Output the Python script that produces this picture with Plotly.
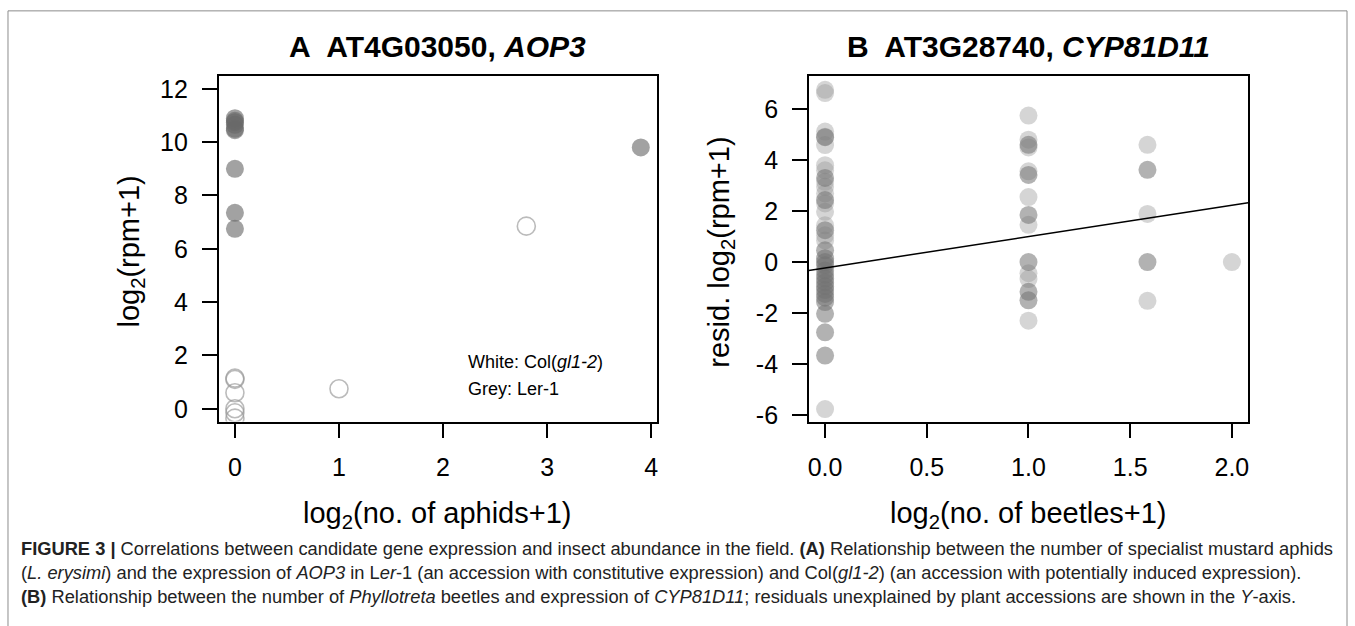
import plotly.graph_objects as go

# ---------------- Data ----------------
# Panel A: AOP3 expression vs aphids
a_ler_x = [0, 0, 0, 0, 0, 0, 0, 0, 0, 3.9]
a_ler_y = [10.9, 10.8, 10.75, 10.65, 10.5, 10.45, 9.0, 7.35, 6.75, 9.8]
a_col_x = [0, 0, 0, 0, 0, 0, 1.0, 2.8]
a_col_y = [1.15, 1.1, 0.6, 0.0, -0.15, -0.35, 0.75, 6.85]

# Panel B: CYP81D11 residuals vs beetles
b_light_x = [0] * 16 + [1.0] * 9 + [1.585] * 3 + [2.0]
b_light_y = [6.76, 6.63, 5.12, 4.92, 4.59, 3.8, 3.6, 3.15, 2.95, 2.69, 2.3, 1.97, 1.44, 1.05, 0.85, -5.77,
             5.75, 4.8, 4.5, 3.56, 2.55, 1.46, -0.44, -0.67, -2.3,
             4.6, 1.89, -1.52,
             0.0]
b_dark_x = [0] * 20 + [1.0] * 6 + [1.585] * 2
b_dark_y = [4.9, 3.3, 2.43, 1.25, 0.46, 0.15, 0.0, -0.13, -0.33, -0.5, -0.65, -0.8, -0.95, -1.1,
            -1.25, -1.4, -1.57, -2.03, -2.76, -3.67,
            4.6, 3.42, 1.85, 0.0, -1.17, -1.5,
            3.62, 0.0]
b_fit_intercept = -0.23
b_fit_slope = 1.23

a_xticks = [0, 1, 2, 3, 4]
a_yticks = [0, 2, 4, 6, 8, 10, 12]
b_xticks = [0.0, 0.5, 1.0, 1.5, 2.0]
b_xticklabels = ["0.0", "0.5", "1.0", "1.5", "2.0"]
b_yticks = [-6, -4, -2, 0, 2, 4, 6]
b_yticklabels = ["-6", "-4", "-2", "0", "2", "4", "6"]

a_xrange = [-0.156, 4.056]
a_yrange = [-0.48, 12.48]
b_xrange = [-0.08, 2.08]
b_yrange = [-6.26, 7.3]

# ---------------- Figure ----------------
W, H = 1355, 626
FONT = "Liberation Sans, Arial, Helvetica, sans-serif"
CAP_FONT = "Liberation Sans, Arial, sans-serif"

fig = go.Figure()

fig.add_trace(go.Scatter(x=a_ler_x, y=a_ler_y, mode="markers", xaxis="x", yaxis="y",
                         marker=dict(size=18, color="rgba(105,105,105,0.62)", line=dict(width=0)),
                         showlegend=False, hoverinfo="skip"))
fig.add_trace(go.Scatter(x=a_col_x, y=a_col_y, mode="markers", xaxis="x", yaxis="y",
                         marker=dict(size=18, symbol="circle-open", color="rgba(150,150,150,0.65)",
                                     line=dict(width=1.6)),
                         showlegend=False, hoverinfo="skip"))

fig.add_trace(go.Scatter(x=b_light_x, y=b_light_y, mode="markers", xaxis="x2", yaxis="y2",
                         marker=dict(size=18, color="rgba(150,150,150,0.4)", line=dict(width=0)),
                         showlegend=False, hoverinfo="skip"))
fig.add_trace(go.Scatter(x=b_dark_x, y=b_dark_y, mode="markers", xaxis="x2", yaxis="y2",
                         marker=dict(size=18, color="rgba(115,115,115,0.55)", line=dict(width=0)),
                         showlegend=False, hoverinfo="skip"))
fit_x = [b_xrange[0], b_xrange[1]]
fit_y = [b_fit_intercept + b_fit_slope * v for v in fit_x]
fig.add_trace(go.Scatter(x=fit_x, y=fit_y, mode="lines", xaxis="x2", yaxis="y2",
                         line=dict(color="black", width=1.5), showlegend=False, hoverinfo="skip"))

def px_x(p):
    return p / W

def px_y(p):
    return 1 - p / H

axis_common = dict(showline=True, mirror=True, linecolor="black", linewidth=1.5,
                   ticks="outside", ticklen=15, tickwidth=1.5, tickcolor="black",
                   showgrid=False, zeroline=False,
                   tickfont=dict(family=FONT, size=25, color="black"))

PLOT_TOP, PLOT_BOTTOM = 76, 426

fig.update_layout(
    width=W, height=H, autosize=False,
    margin=dict(l=0, r=0, t=0, b=0),
    paper_bgcolor="white", plot_bgcolor="white",
    xaxis=dict(domain=[px_x(218), px_x(657)], range=a_xrange, tickvals=a_xticks,
               anchor="y", ticklabelstandoff=8, **axis_common),
    yaxis=dict(domain=[px_y(PLOT_BOTTOM), px_y(PLOT_TOP)], range=a_yrange, tickvals=a_yticks,
               anchor="x", ticklabelstandoff=9, **axis_common),
    xaxis2=dict(domain=[px_x(809), px_x(1249)], range=b_xrange, tickvals=b_xticks,
                ticktext=b_xticklabels, anchor="y2", ticklabelstandoff=8, **axis_common),
    yaxis2=dict(domain=[px_y(PLOT_BOTTOM), px_y(PLOT_TOP)], range=b_yrange, tickvals=b_yticks,
                ticktext=b_yticklabels, anchor="x2", ticklabelstandoff=9, **axis_common),
)

ann = []
def add_text(text, x, y, size, xanchor="center", yanchor="middle", angle=0, family=FONT, color="black"):
    ann.append(dict(text=text, x=px_x(x), y=px_y(y), xref="paper", yref="paper",
                    xanchor=xanchor, yanchor=yanchor, showarrow=False, textangle=angle,
                    font=dict(family=family, size=size, color=color)))

# Titles
add_text("<b>A&nbsp; AT4G03050, <i>AOP3</i></b>", 437, 46, 30)
add_text("<b>B&nbsp; AT3G28740, <i>CYP81D11</i></b>", 1029, 46, 30)
# Axis titles
add_text("log<sub>2</sub>(no. of aphids+1)", 437, 521, 29)
add_text("log<sub>2</sub>(no. of beetles+1)", 1029, 521, 29)
add_text("log<sub>2</sub>(rpm+1)", 130, 254, 29, angle=-90)
add_text("resid. log<sub>2</sub>(rpm+1)", 721, 254, 29, angle=-90)
# Legend text in A
add_text("White: Col(<i>gl1-2</i>)", 466, 366, 18, xanchor="left")
add_text("Grey: Ler-1", 466, 393, 18, xanchor="left")

# Caption
cap1 = ("<b>FIGURE 3 |</b> Correlations between candidate gene expression and insect abundance in the field. "
        "<b>(A)</b> Relationship between the number of specialist mustard aphids")
cap2 = ("(<i>L. erysimi</i>) and the expression of <i>AOP3</i> in L<i>er</i>-1 (an accession with constitutive "
        "expression) and Col(<i>gl1-2</i>) (an accession with potentially induced expression).")
cap3 = ("<b>(B)</b> Relationship between the number of <i>Phyllotreta</i> beetles and expression of "
        "<i>CYP81D11</i>; residuals unexplained by plant accessions are shown in the <i>Y</i>-axis.")
add_text(cap1, 18, 555, 18.3, xanchor="left", family=CAP_FONT, color="#222")
add_text(cap2, 18, 579, 18.3, xanchor="left", family=CAP_FONT, color="#222")
add_text(cap3, 18, 603, 18.3, xanchor="left", family=CAP_FONT, color="#222")

fig.update_layout(annotations=ann)

# Outer frame of the figure
fig.add_shape(type="rect", xref="paper", yref="paper",
              x0=px_x(7), x1=px_x(1348), y0=px_y(640), y1=px_y(10),
              line=dict(color="#8c8c8c", width=1), fillcolor="rgba(0,0,0,0)", layer="below")

fig.write_html("out.html",
               config={"responsive": False, "displayModeBar": False},
               default_width="1355px", default_height="626px",
               post_script="document.body.style.margin='0';document.body.style.padding='0';"
                           "document.body.style.overflow='hidden';")
